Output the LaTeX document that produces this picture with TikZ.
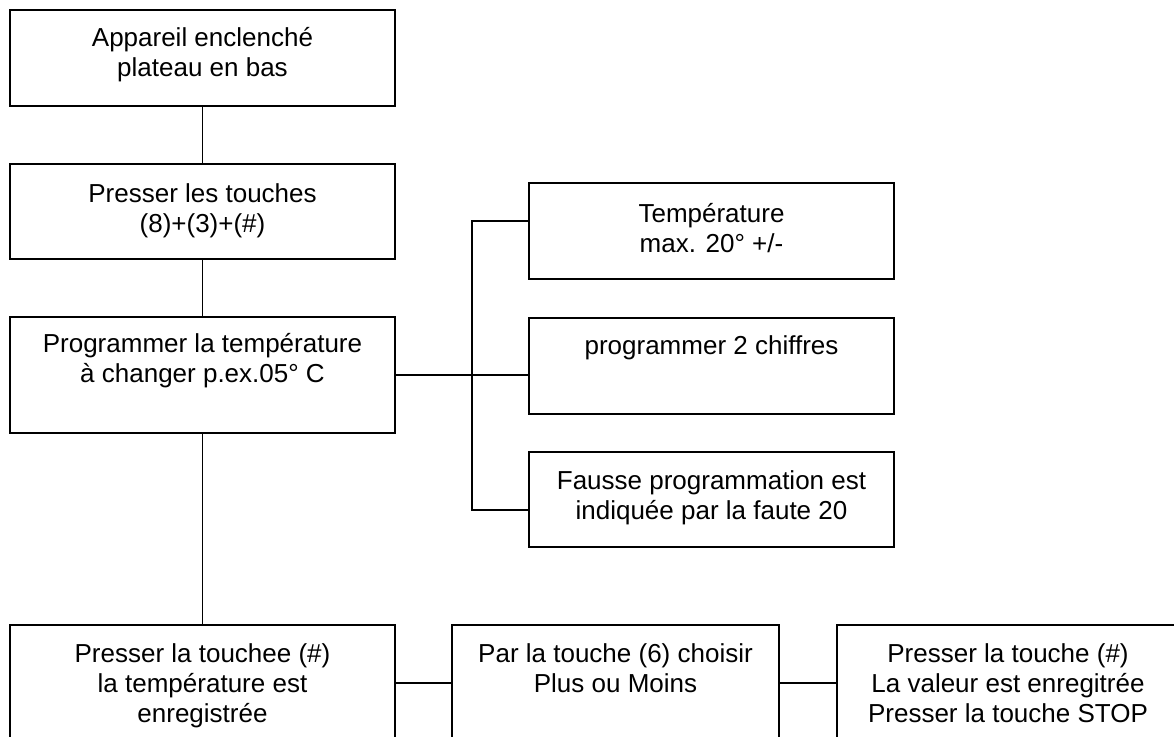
\documentclass[tikz,border=0pt]{standalone}
\usepackage{fontspec}
\setmainfont{Liberation Sans}
\newcommand\bxt[4][37pt]{\parbox[c][#3][t]{#2}{\centering\fontsize{26}{30}\selectfont\rule{0pt}{#1}#4\par}}
\begin{document}
\begin{tikzpicture}[x=1pt,y=-1pt,
  bx/.style={draw, line width=1.8pt, inner sep=0pt, outer sep=0pt, anchor=north west},
  ln/.style={line width=1.8pt}]
\useasboundingbox (0,0) rectangle (1174,736);
\fill[white] (0,0) rectangle (1174,736);
\clip (0,0) rectangle (1174,736);
\node[bx] (b1) at (10,10) {\bxt[36pt]{385pt}{96pt}{Appareil enclenché\\plateau en bas}};
\node[bx] (b2) at (10,164) {\bxt[38pt]{385pt}{95pt}{Presser les touches\\(8)+(3)+(\#)}};
\node[bx] (b3) at (10,317) {\bxt[35pt]{385pt}{116pt}{Programmer la température\\à changer p.ex.05° C}};
\node[bx] (bA) at (529,183) {\bxt[39pt]{365pt}{96pt}{Température\\max. 20° +/-}};
\node[bx] (bB) at (529,318) {\bxt[36pt]{365pt}{96pt}{programmer 2 chiffres}};
\node[bx] (bC) at (529,452) {\bxt[37pt]{365pt}{95pt}{Fausse programmation est\\indiquée par la faute 20}};
\node[bx] (b4) at (10,625) {\bxt[37pt]{385pt}{140pt}{Presser la touchee (\#)\\la température est\\enregistrée}};
\node[bx] (b5) at (452,625) {\bxt[37pt]{327pt}{140pt}{Par la touche (6) choisir\\Plus ou Moins}};
\node[bx] (b6) at (837,625) {\bxt[37pt]{342pt}{140pt}{Presser la touche (\#)\\La valeur est enregitrée\\Presser la touche STOP}};
\coordinate (ja) at (472,221);
\coordinate (jc) at (472,510);
\coordinate (hb) at (0,683);
\draw[ln] (b1) -- (b2);
\draw[ln] (b2) -- (b3);
\draw[ln] (b3) -- (b4);
\draw[ln] (b3.east) -- (bB.west |- b3.east);
\draw[ln] (bA.west |- ja) -- (ja) -- (jc) -- (bC.west |- jc);
\draw[ln] (b4.east |- hb) -- (b5.west |- hb);
\draw[ln] (b5.east |- hb) -- (b6.west |- hb);
\end{tikzpicture}
\end{document}
